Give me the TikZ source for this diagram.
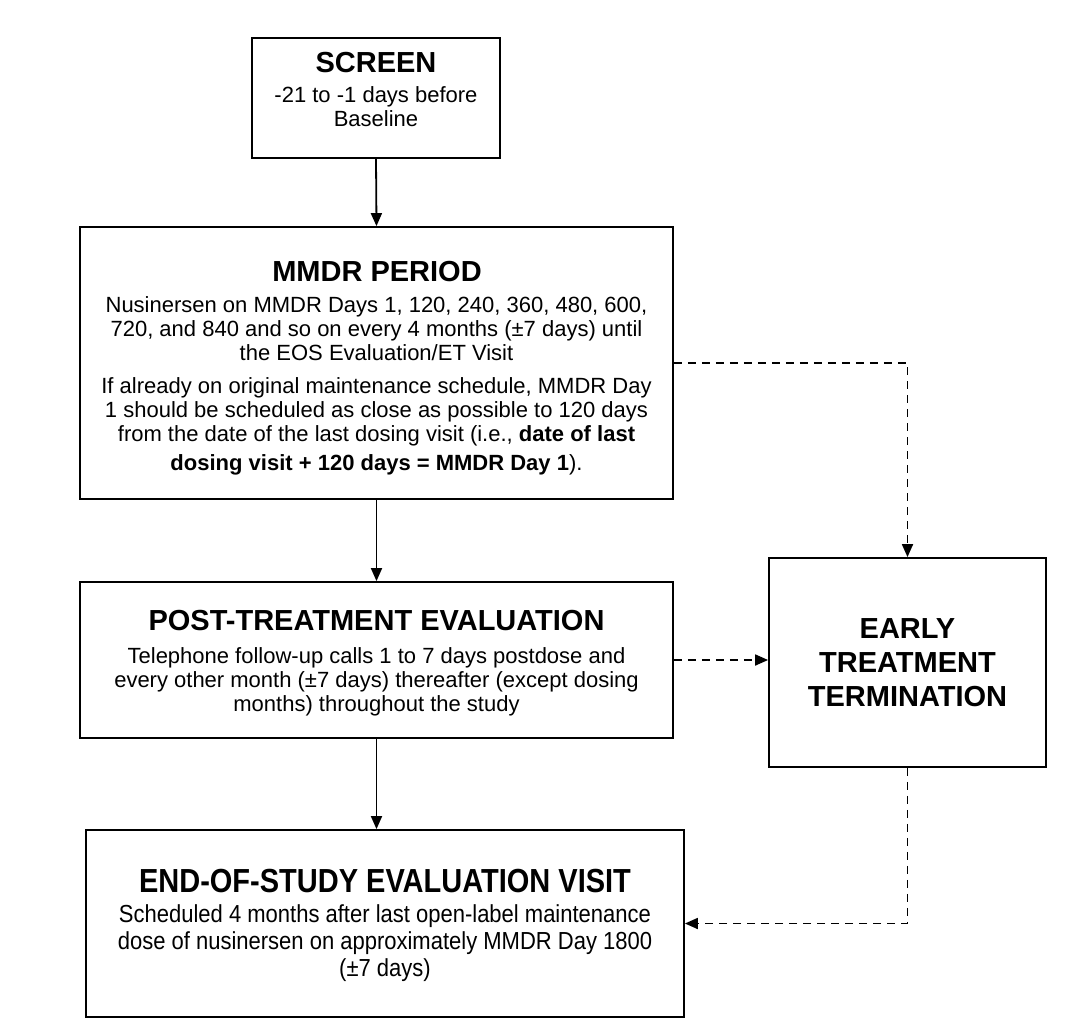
\documentclass[tikz,border=0pt]{standalone}
\usepackage{fontspec}
\setmainfont{Liberation Sans}
\usetikzlibrary{arrows.meta}
\begin{document}
\begin{tikzpicture}[x=1pt,y=-1pt,
  box/.style={draw, line width=1.8pt, inner sep=0pt},
  ttl/.style={font=\fontsize{29}{34}\selectfont\bfseries, align=center, inner sep=0pt},
  body/.style={font=\fontsize{22}{24}\selectfont, align=center, inner sep=0pt},
  solidarrow/.style={line width=1.8pt, -{Triangle[length=13pt,width=11pt]}},
  dasharrow/.style={line width=1.8pt, dash pattern=on 8pt off 6pt, -{Triangle[length=13pt,width=11pt]}}]
\useasboundingbox[fill=white] (0,0) rectangle (1072,1034);
% boxes
\node[box, minimum width=248pt, minimum height=120pt] (screen) at (376,98) {};
\node[box, minimum width=593pt, minimum height=272pt] (mmdr) at (376.5,363) {};
\node[box, minimum width=593pt, minimum height=156pt] (post) at (376.5,660) {};
\node[box, minimum width=277pt, minimum height=209pt] (ett) at (907.5,662.5) {};
\node[box, minimum width=598pt, minimum height=187pt] (eos) at (385,923.5) {};
% texts
\node[ttl] (screenT) at (376,63) {SCREEN};
\node[body] (screenB) at (376,107) {-21 to -1 days before\\Baseline};
\node[ttl] (mmdrT) at (377,272) {MMDR PERIOD};
\node[body] (mmdrB) at (376.5,386) {Nusinersen on MMDR Days 1, 120, 240, 360, 480, 600,\\720, and 840 and so on every 4 months (±7 days) until\\the EOS Evaluation/ET Visit\\[9pt]If already on original maintenance schedule, MMDR Day\\1 should be scheduled as close as possible to 120 days\\from the date of the last dosing visit (i.e., \textbf{date of last}\\[5pt]\textbf{dosing visit + 120 days = MMDR Day 1}).};
\node[ttl] (postT) at (376.5,621) {POST-TREATMENT EVALUATION};
\node[body] (postB) at (376.5,682) {Telephone follow-up calls 1 to 7 days postdose and\\every other month (±7 days) thereafter (except dosing\\months) throughout the study};
\node[ttl] (ettT) at (907.5,663) {EARLY\\TREATMENT\\TERMINATION};
\node[ttl] (eosT) at (385,881) {\scalebox{1}[1.15]{END-OF-STUDY EVALUATION VISIT}};
\node[body] (eosB) at (385,944) {\scalebox{1}[1.12]{\begin{tabular}{@{}c@{}}Scheduled 4 months after last open-label maintenance\\dose of nusinersen on approximately MMDR Day 1800\\(±7 days)\end{tabular}}};
% connectors
\draw[solidarrow] (screen.south) -- (mmdr.north);
\draw[solidarrow] (mmdr.south) -- (post.north);
\draw[solidarrow] (post.south) -- (post.south |- eos.north);
\draw[dasharrow] (mmdr.east) -| (ett.north);
\draw[dasharrow] (post.east) -- (post.east -| ett.west);
\draw[dasharrow] (ett.south) |- (eos.east);
\end{tikzpicture}
\end{document}
